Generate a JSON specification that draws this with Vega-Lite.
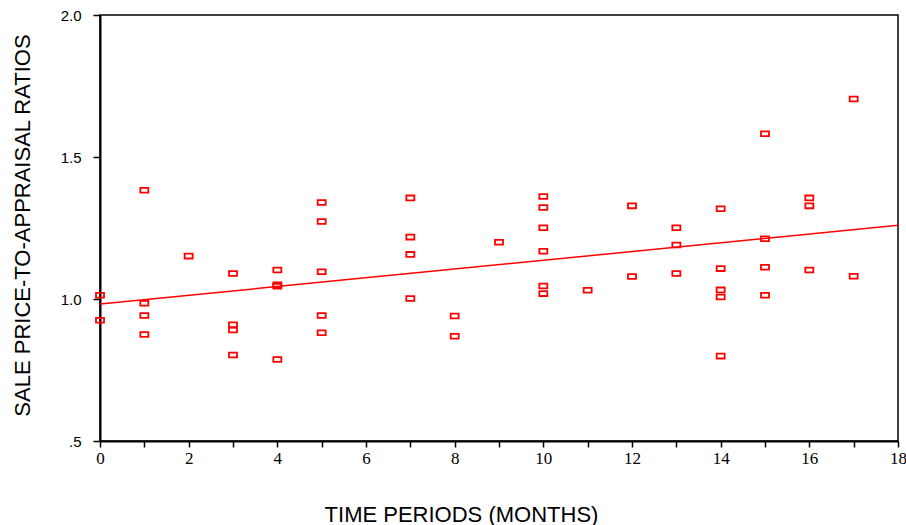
{
  "$schema": "https://vega.github.io/schema/vega-lite/v6.json",
  "width": 798,
  "height": 426,
  "autosize": {"type": "none"},
  "padding": {"left": 100, "top": 15, "right": 8, "bottom": 84},
  "background": "white",
  "config": {
    "view": {"stroke": "black", "strokeWidth": 1.5},
    "font": "Liberation Sans"
  },
  "data": {
    "values": [
      {"t": 0, "r": 1.013}, {"t": 0, "r": 0.925},
      {"t": 1, "r": 1.383}, {"t": 1, "r": 0.985}, {"t": 1, "r": 0.942}, {"t": 1, "r": 0.875},
      {"t": 2, "r": 1.151},
      {"t": 3, "r": 1.090}, {"t": 3, "r": 0.909}, {"t": 3, "r": 0.891}, {"t": 3, "r": 0.803},
      {"t": 4, "r": 1.102}, {"t": 4, "r": 1.050}, {"t": 4, "r": 1.045}, {"t": 4, "r": 0.787},
      {"t": 5, "r": 1.340}, {"t": 5, "r": 1.273}, {"t": 5, "r": 1.096}, {"t": 5, "r": 0.942}, {"t": 5, "r": 0.881},
      {"t": 7, "r": 1.356}, {"t": 7, "r": 1.218}, {"t": 7, "r": 1.157}, {"t": 7, "r": 1.002},
      {"t": 8, "r": 0.940}, {"t": 8, "r": 0.869},
      {"t": 9, "r": 1.200},
      {"t": 10, "r": 1.361}, {"t": 10, "r": 1.322}, {"t": 10, "r": 1.251}, {"t": 10, "r": 1.168}, {"t": 10, "r": 1.046}, {"t": 10, "r": 1.019},
      {"t": 11, "r": 1.031},
      {"t": 12, "r": 1.328}, {"t": 12, "r": 1.079},
      {"t": 13, "r": 1.251}, {"t": 13, "r": 1.190}, {"t": 13, "r": 1.090},
      {"t": 14, "r": 1.318}, {"t": 14, "r": 1.107}, {"t": 14, "r": 1.032}, {"t": 14, "r": 1.007}, {"t": 14, "r": 0.799},
      {"t": 15, "r": 1.582}, {"t": 15, "r": 1.212}, {"t": 15, "r": 1.112}, {"t": 15, "r": 1.013},
      {"t": 16, "r": 1.356}, {"t": 16, "r": 1.328}, {"t": 16, "r": 1.102},
      {"t": 17, "r": 1.704}, {"t": 17, "r": 1.080}
    ]
  },
  "encoding": {
    "x": {
      "field": "t", "type": "quantitative",
      "scale": {"domain": [0, 18], "nice": false, "zero": false},
      "axis": {
        "title": "TIME PERIODS (MONTHS)",
        "values": [0,1,2,3,4,5,6,7,8,9,10,11,12,13,14,15,16,17,18],
        "labelExpr": "datum.value % 2 == 0 ? datum.label : ''",
        "grid": false,
        "domainColor": "black", "domainWidth": 2,
        "tickColor": "black", "tickWidth": 1.5, "tickSize": 6,
        "labelColor": "black", "labelFont": "Liberation Sans Narrow", "labelFontSize": 17,
        "labelPadding": 3, "labelFlush": false, "labelOverlap": false,
        "titleFont": "Liberation Sans", "titleFontSize": 22, "titleFontWeight": "normal", "titleColor": "black",
        "titleX": 361, "titleY": 80, "titleBaseline": "alphabetic", "titleAlign": "center"
      }
    },
    "y": {
      "field": "r", "type": "quantitative",
      "scale": {"domain": [0.5, 2.0], "nice": false, "zero": false},
      "axis": {
        "title": "SALE PRICE-TO-APPRAISAL RATIOS",
        "values": [0.5, 1.0, 1.5, 2.0],
        "labelExpr": "datum.value == 0.5 ? '.5' : format(datum.value, '.1f')",
        "grid": false,
        "domainColor": "black", "domainWidth": 2,
        "tickColor": "black", "tickWidth": 1.5, "tickSize": 7,
        "labelColor": "black", "labelFontSize": 15, "labelPadding": 12,
        "labelFlush": false, "labelOverlap": false,
        "titleFont": "Liberation Sans", "titleFontSize": 22, "titleFontWeight": "normal", "titleColor": "black",
        "titleAngle": -90, "titleX": -78, "titleY": 210, "titleBaseline": "middle", "titleAlign": "center"
      }
    }
  },
  "layer": [
    {
      "mark": {
        "type": "point",
        "shape": "M-1,-0.6H1V0.6H-1Z",
        "filled": false,
        "stroke": "#ff0000",
        "strokeWidth": 1.8,
        "size": 64,
        "opacity": 1
      }
    },
    {
      "transform": [{"regression": "r", "on": "t", "extent": [0, 18]}],
      "mark": {"type": "line", "color": "#ff0000", "strokeWidth": 1.5}
    }
  ]
}
